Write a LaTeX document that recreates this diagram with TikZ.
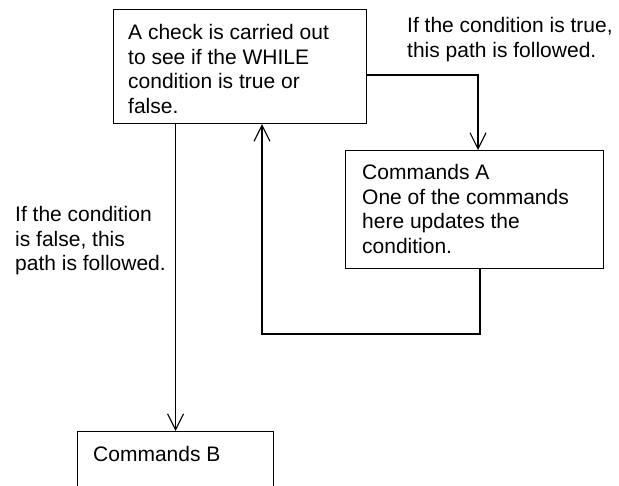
\documentclass[tikz,border=0pt]{standalone}
\usepackage{fontspec}
\setmainfont{Liberation Sans}
\usetikzlibrary{arrows.meta}
\begin{document}
\begin{tikzpicture}[x=1pt,y=-1pt,
  frame/.style={draw, line width=1.1pt, anchor=north west, inner sep=0pt},
  txt/.style={anchor=base west, inner sep=0pt, font=\fontsize{21}{24.5}\selectfont},
  link/.style={line width=1.1pt},
  arr/.style={link, -{Straight Barb[length=16pt,width=16pt,line width=1.1pt]}}]
  \useasboundingbox (0,0) rectangle (619,486);
  \clip (0,0) rectangle (619,486);

  % boxes
  \node[frame, minimum width=253pt, minimum height=114pt] (cond) at (113,9) {};
  \node[frame, minimum width=258pt, minimum height=118pt] (cmdA) at (345,150) {};
  \node[frame, minimum width=196pt, minimum height=110pt] (cmdB) at (77,431) {};

  % box texts
  \node[txt] (condtxt) at (128,40) {\begin{tabular}[t]{@{}l@{}}A check is carried out\\to see if the WHILE\\condition is true or\\false.\end{tabular}};
  \node[txt] (cmdAtxt) at (362,180) {\begin{tabular}[t]{@{}l@{}}Commands A\\One of the commands\\here updates the\\condition.\end{tabular}};
  \node[txt] (cmdBtxt) at (93,461) {Commands B};

  % path labels
  \node[txt] (truelbl) at (407,33) {\begin{tabular}[t]{@{}l@{}}If the condition is true,\\this path is followed.\end{tabular}};
  \node[txt] (falselbl) at (15,222) {\begin{tabular}[t]{@{}l@{}}If the condition\\is false, this\\path is followed.\end{tabular}};

  % turning points
  \coordinate (tturn) at (478,75);
  \coordinate (lbr) at (480,334);
  \coordinate (lbl) at (262,334);

  % true branch
  \draw[arr] (cond.east |- tturn) -- (tturn) -- (cmdA.north -| tturn);
  % loop back to the check
  \draw[arr] (cmdA.south -| lbr) -- (lbr) -- (lbl) -- (cond.south -| lbl);
  % false branch
  \draw[arr] (cond.south -| cmdB.north) -- (cmdB.north);
\end{tikzpicture}
\end{document}
